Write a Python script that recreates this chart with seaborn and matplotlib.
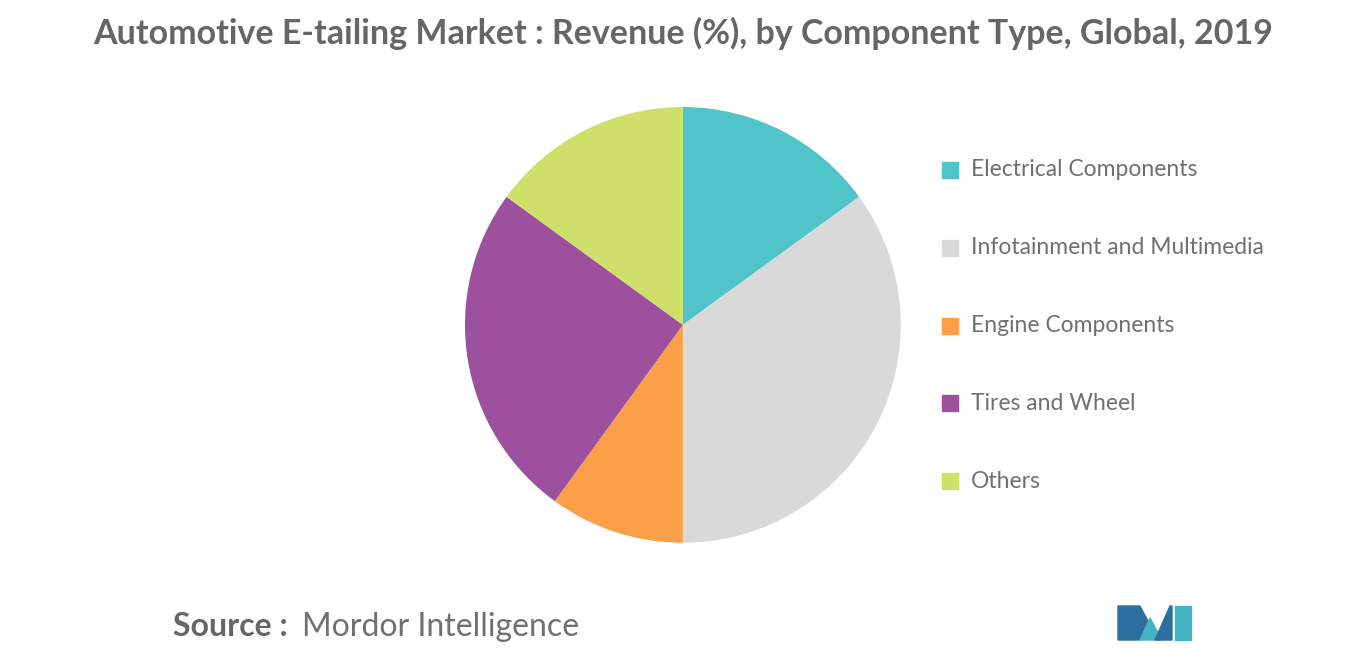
import matplotlib
matplotlib.use("Agg")
import matplotlib.pyplot as plt
import seaborn as sns
from matplotlib.patches import Rectangle, Polygon

sns.set_theme(style="white")
plt.rcParams['font.family'] = ['Lato', 'DejaVu Sans']

categories = ["Electrical Components", "Infotainment and Multimedia", "Engine Components",
              "Tires and Wheel", "Others"]
shares = [15, 35, 10, 25, 15]
colors = ["#51c4c9", "#d9d9d9", "#fb9f48", "#9c509e", "#cfe06a"]

fig = plt.figure(figsize=(13.66, 6.55), dpi=100)
ax = fig.add_axes([0.5 - 0.1596, 0.504 - 0.333, 0.319, 0.666])
ax.pie(shares, colors=colors, startangle=90, counterclock=False,
       wedgeprops=dict(linewidth=0))
ax.set_aspect("equal")
ax.set_xlim(-1, 1)
ax.set_ylim(-1, 1)

fig.text(0.5, 1 - 33 / 655, "Automotive E-tailing Market : Revenue (%), by Component Type, Global, 2019",
         ha="center", va="center", fontsize=24.5, fontweight="bold", color="#666666")

# legend
for i, (lab, col) in enumerate(zip(categories, colors)):
    y = 1 - (170 + i * 77.8) / 655
    fig.patches.append(Rectangle((942 / 1366, y - 8 / 655), 16 / 1366, 16 / 655,
                                 transform=fig.transFigure, color=col))
    fig.text(971 / 1366, y, lab, ha="left", va="center", fontsize=16.5, color="#707070")

fig.text(173 / 1366, 1 - 627 / 655, "Source :", ha="left", va="center",
         fontsize=23, fontweight="bold", color="#666666")
fig.text(302 / 1366, 1 - 627 / 655, "Mordor Intelligence", ha="left", va="center",
         fontsize=23, color="#707070")

# simple logo
def px(pts):
    return [(x / 1366, 1 - y / 655) for x, y in pts]
for pts, c in [
    ([(1118, 640), (1118, 606), (1140, 606), (1150, 625), (1140, 640)], "#2c6f9e"),
    ([(1140, 640), (1150, 618), (1162, 640)], "#46b3c4"),
    ([(1155, 640), (1170, 606), (1172, 606), (1172, 640)], "#2c6f9e"),
    ([(1175, 640), (1175, 606), (1191, 606), (1191, 640)], "#46b3c4"),
]:
    fig.patches.append(Polygon(px(pts), closed=True, transform=fig.transFigure, color=c))

fig.savefig("out.png", dpi=100)
